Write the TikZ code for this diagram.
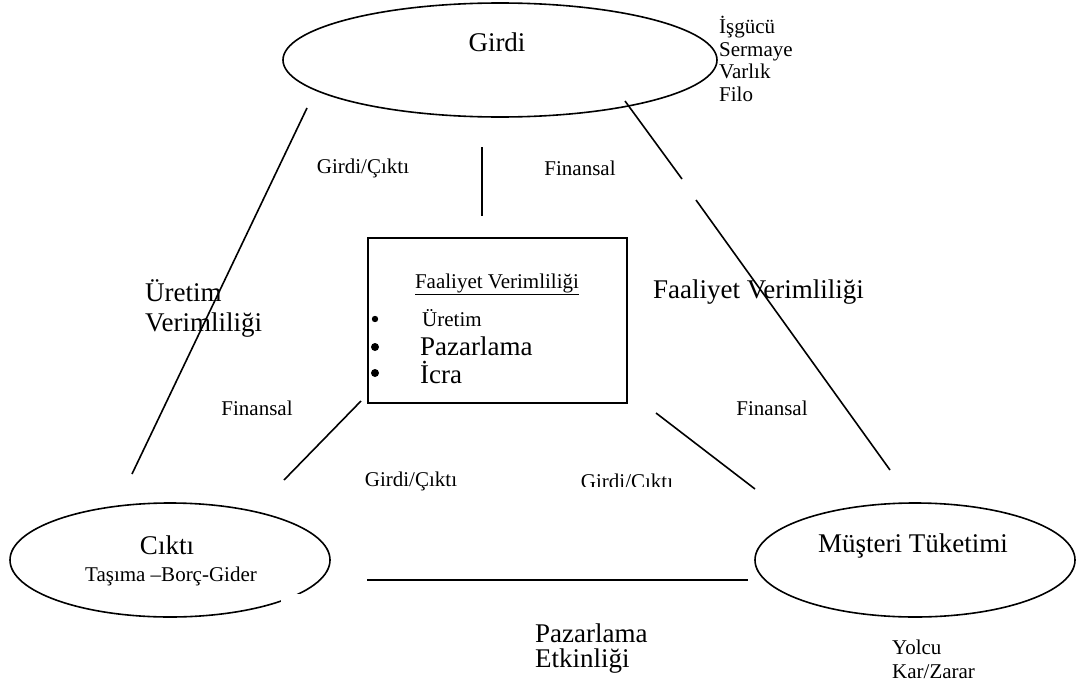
\documentclass[tikz,border=0pt]{standalone}
\usepackage{fontspec}
\setmainfont{Liberation Serif}
\usetikzlibrary{shapes.geometric}
\begin{document}
\begin{tikzpicture}[x=1pt,y=-1pt,
  big/.style={font=\fontsize{27}{30}\selectfont, inner sep=0pt},
  small/.style={font=\fontsize{21}{22}\selectfont, inner sep=0pt},
  oval/.style={draw, line width=1.6pt, ellipse, inner sep=0pt},
  link/.style={line width=1.6pt}]
\useasboundingbox (0,0) rectangle (1079,688);
% ellipses
\node[oval, minimum width=434pt, minimum height=114pt] (girdi) at (500,60) {};
\node[oval, minimum width=320pt, minimum height=114pt] (cikti) at (170,560) {};
\node[oval, minimum width=320pt, minimum height=114pt] (musteri) at (915,560) {};
\fill[white] (281,594) rectangle (300,607);
% box
\node[draw, line width=1.6pt, minimum width=259pt, minimum height=165pt, inner sep=0pt] (box) at (497.5,320.5) {};
% ellipse labels
\node[big] (tgirdi) at (497,42) {Girdi};
\node[big] (tcikti) at (167,545) {Cıktı};
\node[small] (ttasima) at (171,576) {Taşıma –Borç-Gider};
\node[big] (tmusteri) at (913,546) {Müşteri Tüketimi};
% box content
\node[small] (fv) at (497,284) {\underline{Faaliyet Verimliliği}};
\fill (375,319) circle (3.2pt);
\fill (375,347) circle (4pt);
\fill (375,373) circle (4pt);
\node[small, anchor=west] (uretim) at (422,318) {Üretim};
\node[big, anchor=west] (pazar) at (420,346) {Pazarlama};
\node[big, anchor=west] (icra) at (420,372) {İcra};
% side lists
\node[small, anchor=north west, align=left, font=\fontsize{21}{22.5}\selectfont] (list) at (719,16) {İşgücü\\Sermaye\\Varlık\\Filo};
\node[small, anchor=north west, align=left, font=\fontsize{21}{24}\selectfont] (yolcu) at (892,640) {Yolcu\\Kar/Zarar};
% labels
\node[small] (gc1) at (363,168) {Girdi/Çıktı};
\node[small] (fin1) at (580,168) {Finansal};
\node[big, anchor=west, align=left, font=\fontsize{27}{30}\selectfont] (uv) at (145,308) {Üretim\\Verimliliği};
\node[small] (fin2) at (257,408) {Finansal};
\node[big, anchor=west] (fv2) at (653,292) {Faaliyet Verimliliği};
\node[small] (fin3) at (772,408) {Finansal};
\node[small] (gc2) at (411,481) {Girdi/Çıktı};
\begin{scope}
\clip (560,460) rectangle (700,486.5);
\node[small] (gc3) at (627,481) {Girdi/Cıktı};
\end{scope}
\node[big, anchor=west, align=left, font=\fontsize{27}{25}\selectfont] (pe) at (535,649) {Pazarlama\\Etkinliği};
% connectors
\coordinate (a1) at (307,108); \coordinate (a2) at (132,474);
\coordinate (b1) at (625,101); \coordinate (b2) at (682,179);
\coordinate (b3) at (696,200); \coordinate (b4) at (890,470);
\coordinate (c1) at (482,147); \coordinate (c2) at (482,216);
\coordinate (d1) at (361,401); \coordinate (d2) at (284,480);
\coordinate (e1) at (656,413); \coordinate (e2) at (755,489);
\coordinate (f1) at (367,580); \coordinate (f2) at (748,580);
\draw[link] (a1) -- (a2);
\draw[link] (b1) -- (b2);
\draw[link] (b3) -- (b4);
\draw[link] (c1) -- (c2);
\draw[link] (d1) -- (d2);
\draw[link] (e1) -- (e2);
\draw[link] (f1) -- (f2);
\end{tikzpicture}
\end{document}
